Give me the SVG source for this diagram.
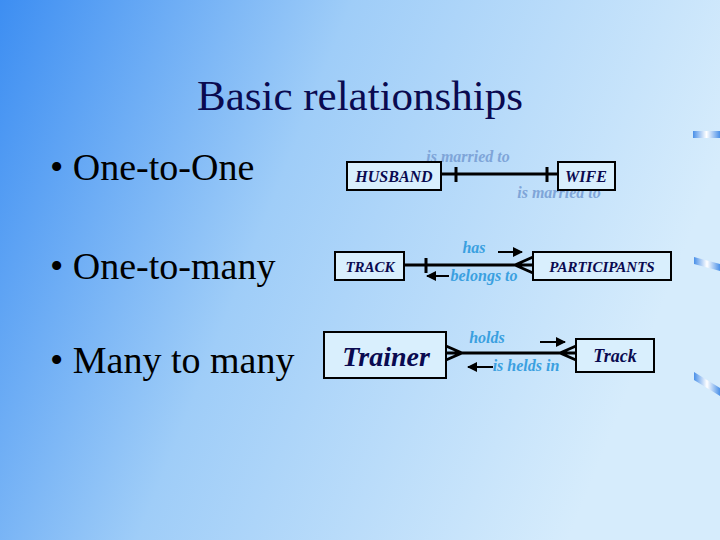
<svg xmlns="http://www.w3.org/2000/svg" width="720" height="540" viewBox="0 0 720 540">
<defs>
<linearGradient id="bg" x1="0" y1="0" x2="1" y2="0.3">
<stop offset="0" stop-color="#3d8ef2"/><stop offset="0.45" stop-color="#9fcdf8"/><stop offset="1" stop-color="#d6ecfc"/>
</linearGradient>
<linearGradient id="deco" x1="0" y1="0" x2="1" y2="0">
<stop offset="0" stop-color="#4a90e8"/><stop offset="0.5" stop-color="#ffffff"/><stop offset="1" stop-color="#4a90e8"/>
</linearGradient>
<marker id="ah" viewBox="0 0 10 10" refX="9" refY="5" markerWidth="5" markerHeight="5" orient="auto"><path d="M0,0L10,5L0,10z" fill="#000"/></marker>
<style>
.box{fill:#d9effd;stroke:#000;stroke-width:2}
.et{font-family:'Liberation Serif',serif;font-style:italic;font-weight:bold;fill:#0a0a50;text-anchor:middle}
.lbl{font-family:'Liberation Serif',serif;font-style:italic;font-weight:bold;fill:#3aa0e0;font-size:16px;text-anchor:middle}
.ln{stroke:#000;stroke-width:3;fill:none}
.ar{stroke:#000;stroke-width:2;marker-end:url(#ah)}
.bul{font-family:'Liberation Serif',serif;font-size:38px;fill:#000}
</style>
</defs>
<rect width="720" height="540" fill="url(#bg)"/>
<rect x="693" y="131" width="27" height="7" fill="url(#deco)"/>
<path d="M694,257 L720,264 L720,271 L694,264z" fill="url(#deco)"/>
<path d="M694,372 L720,388 L720,396 L694,380z" fill="url(#deco)"/>
<text x="360" y="110" font-family="Liberation Serif,serif" font-size="43" text-anchor="middle" fill="#0a0a50">Basic relationships</text>
<text class="bul" x="50" y="180">• One-to-One</text>
<text class="bul" x="50" y="279">• One-to-many</text>
<text class="bul" x="50" y="373">• Many to many</text>
<g id="connectors">
<path class="ln" d="M441,174H558M456,167V182M547,167V182"/>
<path class="ln" d="M404,265H533M426,258V273M515,265L533,257M515,265L533,273"/>
<path class="ln" d="M446,353H576M462,353L446,346M462,353L446,360M560,353L576,346M560,353L576,360"/>
<line class="ar" x1="498" y1="252" x2="522" y2="252"/>
<line class="ar" x1="449" y1="276" x2="427" y2="276"/>
<line class="ar" x1="540" y1="342" x2="565" y2="342"/>
<line class="ar" x1="493" y1="367" x2="468" y2="367"/>
</g>
<text class="lbl" x="468" y="162" style="fill:#7fa5d8">is married to</text>
<text class="lbl" x="559" y="198" style="fill:#7fa5d8">is married to</text>
<text class="lbl" x="474" y="253">has</text>
<text class="lbl" x="484" y="281">belongs to</text>
<text class="lbl" x="487" y="343">holds</text>
<text class="lbl" x="526" y="371">is helds in</text>
<g id="husband"><rect class="box" x="347" y="162" width="94" height="28"/><text class="et" x="394" y="182" font-size="16">HUSBAND</text></g>
<g id="wife"><rect class="box" x="558" y="162" width="57" height="28"/><text class="et" x="586" y="182" font-size="16">WIFE</text></g>
<g id="track"><rect class="box" x="335" y="252" width="69" height="28"/><text class="et" x="370" y="272" font-size="15">TRACK</text></g>
<g id="participants"><rect class="box" x="533" y="252" width="138" height="28"/><text class="et" x="602" y="272" font-size="15">PARTICIPANTS</text></g>
<g id="trainer"><rect class="box" x="324" y="332" width="122" height="46"/><text class="et" x="386" y="366" font-size="28">Trainer</text></g>
<g id="track2"><rect class="box" x="576" y="339" width="78" height="33"/><text class="et" x="615" y="362" font-size="18">Track</text></g>
</svg>
